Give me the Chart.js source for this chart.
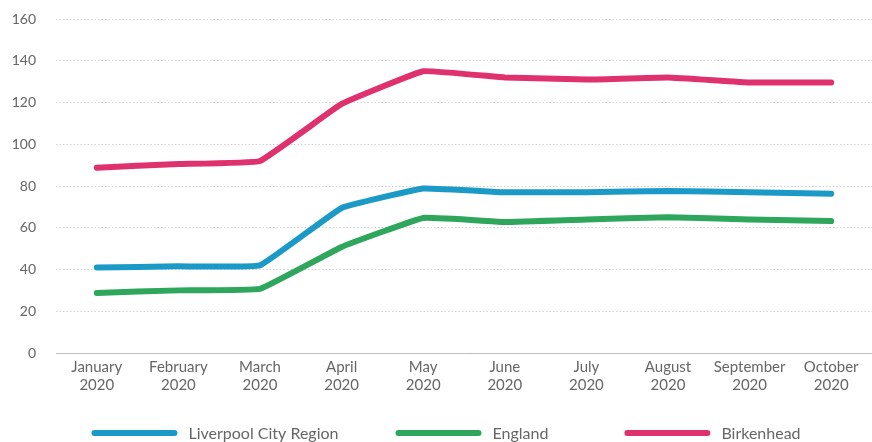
<!DOCTYPE html>
<html>
<head>
<meta charset="utf-8">
<script src="https://cdn.jsdelivr.net/npm/chart.js@4"></script>
<style>
html,body{margin:0;padding:0;background:#fff;}
#wrap{width:872px;height:442px;position:relative;}
</style>
</head>
<body>
<div id="wrap"><canvas id="c" width="872" height="442"></canvas></div>
<script>
const categories = [["January","2020"],["February","2020"],["March","2020"],["April","2020"],["May","2020"],["June","2020"],["July","2020"],["August","2020"],["September","2020"],["October","2020"]];
const liverpool = [41, 41.5, 42, 69.5, 78.8, 77, 77, 77.6, 77, 76.3];
const england = [28.8, 30, 30.7, 50.8, 64.7, 62.8, 64, 65, 64, 63.2];
const birkenhead = [88.8, 90.5, 92, 119.3, 135, 132, 131, 132, 129.6, 129.6];
const yTicks = [0, 20, 40, 60, 80, 100, 120, 140, 160];

const textColor = '#666666';
const xFont = {family: 'Lato', size: 15};
const yFont = {family: 'Lato', size: 14};

const customLegend = {
  id: 'customLegend',
  afterDraw(chart) {
    const ctx = chart.ctx;
    const boxW = 86, boxH = 6, gapText = 11, gaps = [57, 76];
    ctx.save();
    ctx.font = '16px Lato';
    const items = chart.data.datasets.map(d => ({label: d.label, color: d.borderColor, tw: ctx.measureText(d.label).width}));
    const total = items.reduce((s, it) => s + boxW + gapText + it.tw, 0) + gaps.reduce((a, b) => a + b, 0);
    let x = 446 - total / 2;
    const y = 433;
    items.forEach((it, i) => {
      ctx.fillStyle = it.color;
      ctx.beginPath();
      ctx.roundRect(x, y - boxH / 2, boxW, boxH, boxH / 2);
      ctx.fill();
      ctx.fillStyle = textColor;
      ctx.textBaseline = 'middle';
      ctx.textAlign = 'left';
      ctx.fillText(it.label, x + boxW + gapText, y + 1);
      x += boxW + gapText + it.tw + (gaps[i] || 0);
    });
    ctx.restore();
  }
};

new Chart(document.getElementById('c'), {
  type: 'line',
  data: {
    labels: categories,
    datasets: [
      {label: 'Liverpool City Region', data: liverpool, borderColor: '#1c9ac7', backgroundColor: '#1c9ac7'},
      {label: 'England', data: england, borderColor: '#2ea65c', backgroundColor: '#2ea65c'},
      {label: 'Birkenhead', data: birkenhead, borderColor: '#e0316f', backgroundColor: '#e0316f'}
    ].map(d => Object.assign(d, {borderWidth: 6, pointRadius: 0, tension: 0.08, borderCapStyle: 'round', borderJoinStyle: 'round', fill: false}))
  },
  options: {
    responsive: false,
    animation: false,
    layout: {padding: {left: 0, right: 0, top: 0, bottom: 0}},
    plugins: {
      tooltip: {enabled: false},
      legend: {display: false}
    },
    scales: {
      x: {
        offset: true,
        grid: {display: false, drawTicks: false},
        border: {display: true, color: '#bdbdbd', width: 1},
        ticks: {color: textColor, font: xFont, padding: 5, maxRotation: 0, autoSkip: false},
        afterFit: axis => { axis.height = 89; }
      },
      y: {
        min: 0, max: 160,
        afterBuildTicks: axis => { axis.ticks = yTicks.map(v => ({value: v})); },
        grid: {color: '#d4d4d4', lineWidth: 1, drawTicks: false},
        border: {display: false, dash: [1.5, 2]},
        ticks: {color: textColor, font: yFont, padding: 20},
        afterFit: axis => { axis.width = 56; axis.paddingTop = 19; axis.paddingBottom = 0; }
      }
    }
  },
  plugins: [customLegend]
});
</script>
</body>
</html>
